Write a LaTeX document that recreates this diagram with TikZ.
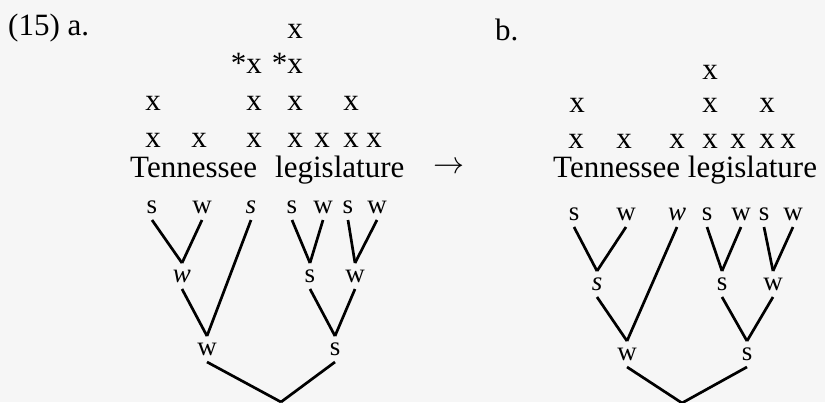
\documentclass[tikz,border=0pt]{standalone}
\usepackage{fontspec}
\setmainfont{Liberation Serif}
\usepackage{graphicx}
\usepackage{tikz}
\usetikzlibrary{positioning}
\definecolor{paper}{RGB}{246,246,246}

\begin{document}
\begin{tikzpicture}[x=1pt, y=-1pt,
  txt/.style={inner sep=0pt, anchor=base, font=\fontsize{31}{36}\selectfont},
  gridx/.style={txt, text height=14pt, text depth=0pt},
  lbl/.style={inner sep=0pt, outer sep=7pt, anchor=base, text height=12pt, text depth=0pt, font=\fontsize{27}{32}\selectfont},
  branch/.style={line width=2.7pt}]
\fill[paper] (0,0) rectangle (825,402);
\useasboundingbox (0,0) rectangle (825,402);

% example numbers and the arrow
\node[txt,anchor=base west] (exa) at (8,35) {(15) a.};
\node[txt,anchor=base west] (exb) at (495,40) {b.};
\node[txt,anchor=base west] (arr) at (433,173) {\resizebox{31pt}{!}{$\rightarrow$}};

% (a) grid
\node[gridx] (ga11) at (295,38) {x};
\node[gridx] (ga21) at (254,73) {\llap{*}x};
\node[gridx] (ga22) at (295,73) {\llap{*}x};
\node[gridx] (ga31) at (153,110) {x};
\node[gridx] (ga32) at (254,110) {x};
\node[gridx] (ga33) at (295,110) {x};
\node[gridx] (ga34) at (351,110) {x};
\node[gridx] (ga41) at (153,147) {x};
\node[gridx] (ga42) at (199,147) {x};
\node[gridx] (ga43) at (254,147) {x};
\node[gridx] (ga44) at (295,147) {x};
\node[gridx] (ga45) at (322,147) {x};
\node[gridx] (ga46) at (351,147) {x};
\node[gridx] (ga47) at (374,147) {x};
\node[txt,anchor=base west] (wa1) at (130,177) {Tennessee};
\node[txt,anchor=base west] (wa2) at (275,177) {legislature};

% (a) tree
\node[lbl] (a1) at (152,213) {s};
\node[lbl] (a2) at (202,213) {w};
\node[lbl] (a3) at (251,213) {\itshape s};
\node[lbl] (a4) at (292,213) {s};
\node[lbl] (a5) at (323,213) {w};
\node[lbl] (a6) at (348,213) {s};
\node[lbl] (a7) at (377,213) {w};
\node[lbl] (a12) at (182,282) {\itshape w};
\node[lbl] (a45) at (310,282) {s};
\node[lbl] (a67) at (355,282) {w};
\node[lbl] (a123) at (207,355) {w};
\node[lbl] (a4567) at (335,355) {s};
\coordinate (aroot) at (281,402);

\draw[branch] (a1.south) -- (a12.north);
\draw[branch] (a2.south) -- (a12.north);
\draw[branch] (a4.south) -- (a45.north);
\draw[branch] (a5.south) -- (a45.north);
\draw[branch] (a6.south) -- (a67.north);
\draw[branch] (a7.south) -- (a67.north);
\draw[branch] (a12.south) -- (a123.north);
\draw[branch] (a3.south) -- (a123.north);
\draw[branch] (a45.south) -- (a4567.north);
\draw[branch] (a67.south) -- (a4567.north);
\draw[branch] (a123.south) -- (aroot);
\draw[branch] (a4567.south) -- (aroot);

% (b) grid
\node[gridx] (gb11) at (710,79) {x};
\node[gridx] (gb21) at (577,112) {x};
\node[gridx] (gb22) at (710,112) {x};
\node[gridx] (gb23) at (767,112) {x};
\node[gridx] (gb31) at (576,148) {x};
\node[gridx] (gb32) at (624,148) {x};
\node[gridx] (gb33) at (677,148) {x};
\node[gridx] (gb34) at (710,148) {x};
\node[gridx] (gb35) at (738,148) {x};
\node[gridx] (gb36) at (767,148) {x};
\node[gridx] (gb37) at (788,148) {x};
\node[txt,anchor=base west] (wb) at (553,177) {Tennessee legislature};

% (b) tree
\node[lbl] (b1) at (574,220) {s};
\node[lbl] (b2) at (626,220) {w};
\node[lbl] (b3) at (677,220) {\itshape w};
\node[lbl] (b4) at (707,220) {s};
\node[lbl] (b5) at (741,220) {w};
\node[lbl] (b6) at (764,220) {s};
\node[lbl] (b7) at (793,220) {w};
\node[lbl] (b12) at (597,290) {\itshape s};
\node[lbl] (b45) at (722,290) {s};
\node[lbl] (b67) at (773,290) {w};
\node[lbl] (b123) at (627,360) {w};
\node[lbl] (b4567) at (747,360) {s};
\coordinate (broot) at (682,403);

\draw[branch] (b1.south) -- (b12.north);
\draw[branch] (b2.south) -- (b12.north);
\draw[branch] (b4.south) -- (b45.north);
\draw[branch] (b5.south) -- (b45.north);
\draw[branch] (b6.south) -- (b67.north);
\draw[branch] (b7.south) -- (b67.north);
\draw[branch] (b12.south) -- (b123.north);
\draw[branch] (b3.south) -- (b123.north);
\draw[branch] (b45.south) -- (b4567.north);
\draw[branch] (b67.south) -- (b4567.north);
\draw[branch] (b123.south) -- (broot);
\draw[branch] (b4567.south) -- (broot);
\end{tikzpicture}
\end{document}
